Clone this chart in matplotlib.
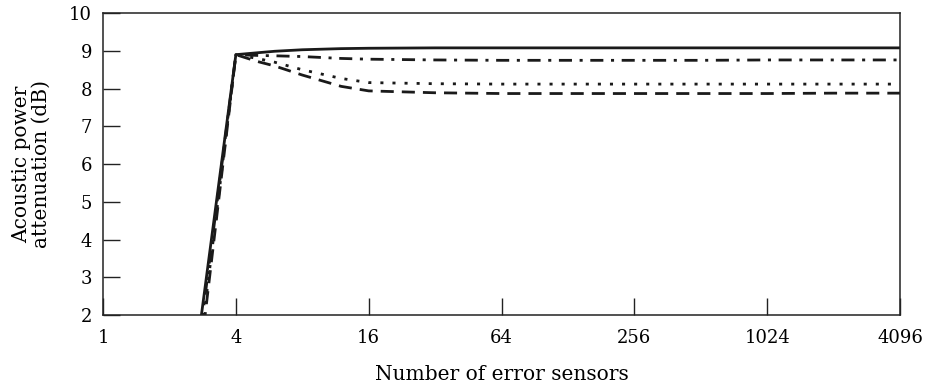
import numpy as np
import matplotlib.pyplot as plt
from matplotlib.ticker import FixedLocator, FixedFormatter, NullLocator

plt.rcParams['font.family'] = ['DejaVu Serif']
plt.rcParams['lines.scale_dashes'] = False

# number of error sensors
sensors = [2, 4, 5, 6, 8, 12, 16, 32, 64, 128, 256, 512, 1024, 2048, 4096]

# attenuation (dB) for each configuration
att_solid = [-4.4, 8.90, 8.95, 8.99, 9.03, 9.06, 9.07, 9.08, 9.08, 9.08, 9.08, 9.08, 9.08, 9.08, 9.08]
att_dashdot = [-4.9, 8.90, 8.88, 8.87, 8.85, 8.80, 8.78, 8.76, 8.75, 8.75, 8.75, 8.75, 8.76, 8.76, 8.76]
att_dotted = [-5.5, 8.90, 8.80, 8.70, 8.50, 8.27, 8.16, 8.13, 8.12, 8.12, 8.12, 8.12, 8.12, 8.12, 8.12]
att_dashed = [-6.0, 8.90, 8.72, 8.60, 8.36, 8.06, 7.94, 7.89, 7.87, 7.87, 7.87, 7.87, 7.87, 7.88, 7.88]

xticks = [1, 4, 16, 64, 256, 1024, 4096]
yticks = [2, 3, 4, 5, 6, 7, 8, 9, 10]

fig = plt.figure(figsize=(9.25, 3.87), dpi=100)
ax = fig.add_axes([0.1114, 0.186, 0.8616, 0.780])

ink = '#1a1a1a'
ax.plot(sensors, att_solid, color=ink, lw=2.0, ls='-')
ax.plot(sensors, att_dashdot, color=ink, lw=2.0, ls=(0, (9.4, 5.5, 2.2, 5.5)))
ax.plot(sensors, att_dotted, color=ink, lw=2.0, ls=(0, (2.2, 6.5)))
ax.plot(sensors, att_dashed, color=ink, lw=2.0, ls=(0, (9.4, 5.8)))

ax.set_xscale('log', base=2)
ax.set_xlim(1, 4096)
ax.set_ylim(2, 10)
ax.xaxis.set_major_locator(FixedLocator(xticks))
ax.xaxis.set_major_formatter(FixedFormatter([str(t) for t in xticks]))
ax.xaxis.set_minor_locator(NullLocator())
ax.set_yticks(yticks)

for s in ax.spines.values():
    s.set_linewidth(1.1)
    s.set_color('#222222')

ax.tick_params(axis='both', direction='in', length=12, width=1.0, color='#222222',
               labelsize=13)
ax.tick_params(axis='x', pad=10)
ax.tick_params(axis='y', pad=8)

ax.set_xlabel('Number of error sensors', fontsize=14.5)
ax.xaxis.set_label_coords(0.5, -0.165)
ax.set_ylabel('Acoustic power\nattenuation (dB)', fontsize=14.5, linespacing=1.1)
ax.yaxis.set_label_coords(-0.065, 0.5)

fig.savefig('out.png', dpi=100)
